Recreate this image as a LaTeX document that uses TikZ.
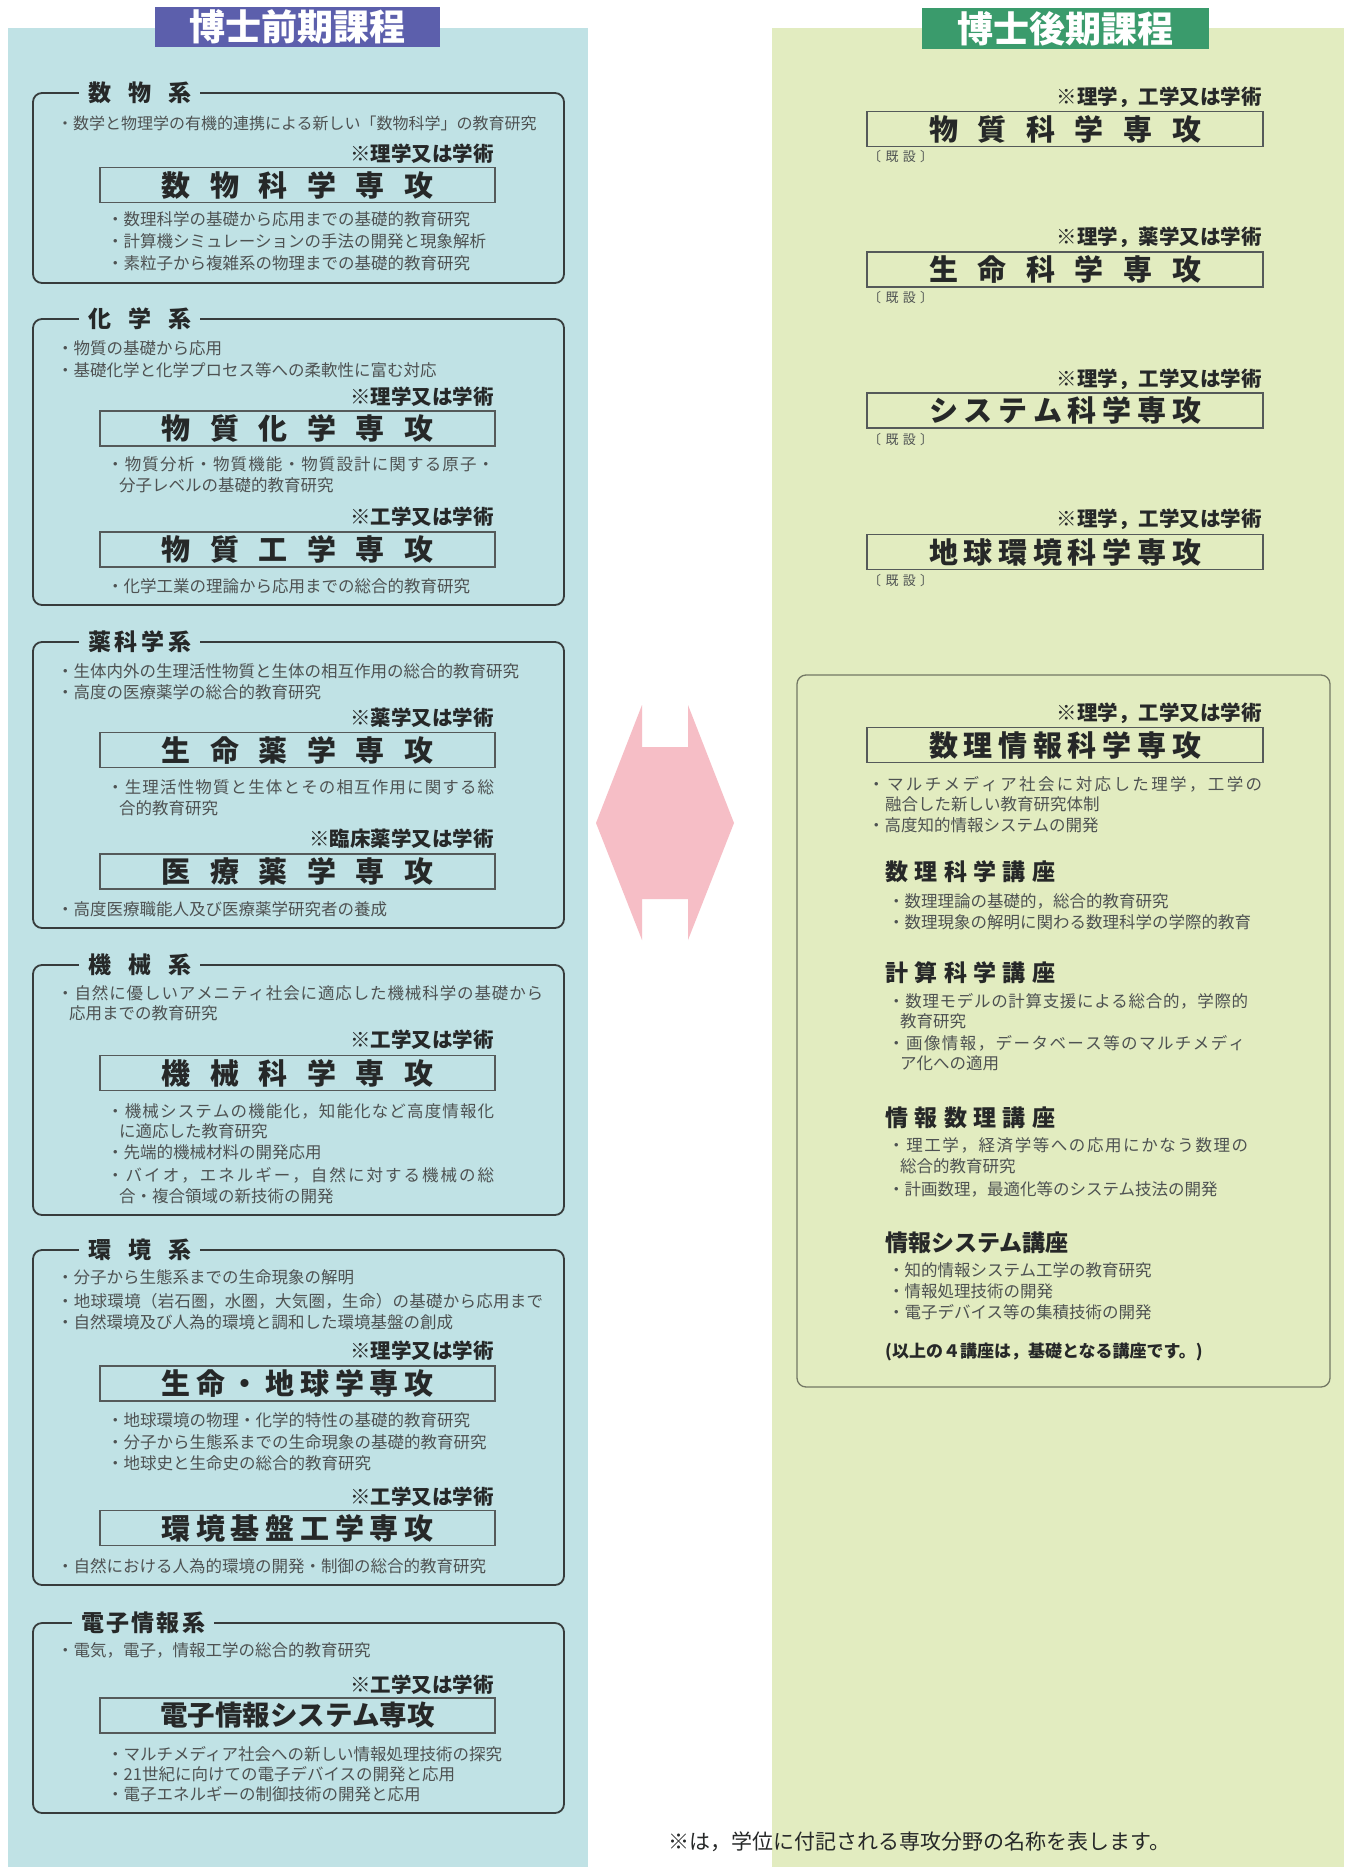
\documentclass[tikz,border=0pt]{standalone}
\usepackage{fontspec}
\setmainfont{Noto Sans CJK JP}
\definecolor{leftbg}{RGB}{192,226,229}
\definecolor{rightbg}{RGB}{226,236,192}
\definecolor{titleL}{RGB}{92,95,172}
\definecolor{titleR}{RGB}{58,155,108}
\definecolor{arrowpink}{RGB}{246,190,198}
\definecolor{txt}{RGB}{38,40,40}
\definecolor{btxt}{RGB}{78,82,82}
\definecolor{grpline}{RGB}{55,60,60}
\definecolor{boxline}{RGB}{85,90,90}
\definecolor{rline}{RGB}{115,120,100}
\newcommand\spread[2]{\hbox to #1{#2}}
\def\jst#1#2{\hbox to #1{\jstaux#2\relax\unskip}}
\def\jstaux#1{\ifx\relax#1\else#1\hfil\expandafter\jstaux\fi}
\begin{document}
\begin{tikzpicture}[x=1pt,y=-1pt,
  titlebar/.style={inner sep=0pt,text=white,font=\fontsize{36}{36}\selectfont\bfseries},
  grp/.style={draw=grpline,line width=1.8pt,rounded corners=9pt},
  rgrp/.style={draw=rline,line width=1.3pt,rounded corners=9pt},
  grphead/.style={anchor=west,fill=leftbg,inner xsep=9pt,inner ysep=2pt,text=txt,font=\fontsize{23}{23}\selectfont\bfseries},
  bul/.style={anchor=west,inner sep=0pt,text=btxt,font=\fontsize{16.5}{16.5}\selectfont},
  deg/.style={anchor=east,inner sep=0pt,text=txt,font=\fontsize{20.5}{20.5}\selectfont\bfseries},
  major/.style={draw=boxline,line width=1.3pt,inner sep=0pt,minimum height=35pt,text=txt,font=\fontsize{29}{29}\selectfont\bfseries},
  lmajor/.style={major,minimum width=395pt},
  rmajor/.style={major,minimum width=396pt},
  kisetsu/.style={anchor=west,inner sep=0pt,text=btxt,font=\fontsize{13}{13}\selectfont},
  koza/.style={anchor=west,inner sep=0pt,text=txt,font=\fontsize{23}{23}\selectfont\bfseries},
  foot/.style={anchor=west,inner sep=0pt,text=txt,font=\fontsize{21}{21}\selectfont}
]
\useasboundingbox (0,0) rectangle (1358,1867);
\fill[white] (0,0) rectangle (1358,1867);
\fill[leftbg] (8,28) rectangle (588,1867);
\fill[rightbg] (772,28) rectangle (1344,1867);
\fill[titleL] (155,7) rectangle (440,47);
\node[titlebar] (tL) at (297.5,27) {博士前期課程};
\fill[titleR] (922,8) rectangle (1209,49);
\node[titlebar] (tR) at (1065.5,28.5) {博士後期課程};

% pink double arrow
\fill[arrowpink] (596,823) -- (642,705) -- (642,747) -- (688,747) -- (688,705) -- (734,823)
  -- (688,940) -- (688,899) -- (642,899) -- (642,940) -- cycle;

% ---------- group 1 ----------
\draw[grp] (33,93) rectangle (564,283);
\node[grphead] (g1h) at (79,93) {\spread{103pt}{数\hfil 物\hfil 系}};
\node[bul,font=\fontsize{16}{16}\selectfont] (g1d1) at (57,123) {・数学と物理学の有機的連携による新しい「数物科学」の教育研究};
\node[deg] (g1s) at (494,154) {※理学又は学術};
\node[lmajor] (g1m) at (297.5,185) {\spread{272pt}{数\hfil 物\hfil 科\hfil 学\hfil 専\hfil 攻}};
\node[bul] (g1b1) at (107,219) {・数理科学の基礎から応用までの基礎的教育研究};
\node[bul] (g1b2) at (107,241) {・計算機シミュレーションの手法の開発と現象解析};
\node[bul] (g1b3) at (107,263) {・素粒子から複雑系の物理までの基礎的教育研究};

% ---------- group 2 ----------
\draw[grp] (33,319) rectangle (564,605);
\node[grphead] (g2h) at (79,319) {\spread{103pt}{化\hfil 学\hfil 系}};
\node[bul] (g2d1) at (57,348) {・物質の基礎から応用};
\node[bul] (g2d2) at (57,370) {・基礎化学と化学プロセス等への柔軟性に富む対応};
\node[deg] (g2s1) at (494,397) {※理学又は学術};
\node[lmajor] (g2m1) at (297.5,428.5) {\spread{272pt}{物\hfil 質\hfil 化\hfil 学\hfil 専\hfil 攻}};
\node[bul] (g2b1) at (107,464) {\jst{387pt}{・物質分析・物質機能・物質設計に関する原子・}};
\node[bul] (g2b1b) at (119,485) {分子レベルの基礎的教育研究};
\node[deg] (g2s2) at (494,517) {※工学又は学術};
\node[lmajor] (g2m2) at (297.5,549.5) {\spread{272pt}{物\hfil 質\hfil 工\hfil 学\hfil 専\hfil 攻}};
\node[bul] (g2b2) at (107,586) {・化学工業の理論から応用までの総合的教育研究};

% ---------- group 3 ----------
\draw[grp] (33,642) rectangle (564,928);
\node[grphead] (g3h) at (79,642) {\spread{103pt}{薬\hfil 科\hfil 学\hfil 系}};
\node[bul] (g3d1) at (57,671) {・生体内外の生理活性物質と生体の相互作用の総合的教育研究};
\node[bul] (g3d2) at (57,692) {・高度の医療薬学の総合的教育研究};
\node[deg] (g3s1) at (494,718) {※薬学又は学術};
\node[lmajor] (g3m1) at (297.5,750) {\spread{272pt}{生\hfil 命\hfil 薬\hfil 学\hfil 専\hfil 攻}};
\node[bul] (g3b1) at (107,787) {\jst{387pt}{・生理活性物質と生体とその相互作用に関する総}};
\node[bul] (g3b1b) at (119,808) {合的教育研究};
\node[deg] (g3s2) at (494,839) {※臨床薬学又は学術};
\node[lmajor] (g3m2) at (297.5,871.5) {\spread{272pt}{医\hfil 療\hfil 薬\hfil 学\hfil 専\hfil 攻}};
\node[bul] (g3b2) at (57,909) {・高度医療職能人及び医療薬学研究者の養成};

% ---------- group 4 ----------
\draw[grp] (33,965) rectangle (564,1215);
\node[grphead] (g4h) at (79,965) {\spread{103pt}{機\hfil 械\hfil 系}};
\node[bul] (g4d1) at (57,993) {\jst{486pt}{・自然に優しいアメニティ社会に適応した機械科学の基礎から}};
\node[bul] (g4d1b) at (69,1013) {応用までの教育研究};
\node[deg] (g4s) at (494,1040) {※工学又は学術};
\node[lmajor] (g4m) at (297.5,1073) {\spread{272pt}{機\hfil 械\hfil 科\hfil 学\hfil 専\hfil 攻}};
\node[bul] (g4b1) at (107,1111) {\jst{387pt}{・機械システムの機能化，知能化など高度情報化}};
\node[bul] (g4b1b) at (119,1131) {に適応した教育研究};
\node[bul] (g4b2) at (107,1152) {・先端的機械材料の開発応用};
\node[bul] (g4b3) at (107,1175) {\jst{387pt}{・バイオ，エネルギー，自然に対する機械の総}};
\node[bul] (g4b3b) at (119,1196) {合・複合領域の新技術の開発};

% ---------- group 5 ----------
\draw[grp] (33,1250) rectangle (564,1585);
\node[grphead] (g5h) at (79,1250) {\spread{103pt}{環\hfil 境\hfil 系}};
\node[bul] (g5d1) at (57,1277) {・分子から生態系までの生命現象の解明};
\node[bul] (g5d2) at (57,1301) {\jst{486pt}{・地球環境（岩石圏，水圏，大気圏，生命）の基礎から応用まで}};
\node[bul] (g5d3) at (57,1322) {・自然環境及び人為的環境と調和した環境基盤の創成};
\node[deg] (g5s1) at (494,1351) {※理学又は学術};
\node[lmajor] (g5m1) at (297.5,1383.5) {\spread{272pt}{生\hfil 命\hfil ・\hfil 地\hfil 球\hfil 学\hfil 専\hfil 攻}};
\node[bul] (g5b1) at (107,1420) {・地球環境の物理・化学的特性の基礎的教育研究};
\node[bul] (g5b2) at (107,1442) {・分子から生態系までの生命現象の基礎的教育研究};
\node[bul] (g5b3) at (107,1463) {・地球史と生命史の総合的教育研究};
\node[deg] (g5s2) at (494,1497) {※工学又は学術};
\node[lmajor] (g5m2) at (297.5,1528) {\spread{272pt}{環\hfil 境\hfil 基\hfil 盤\hfil 工\hfil 学\hfil 専\hfil 攻}};
\node[bul] (g5b4) at (57,1566) {・自然における人為的環境の開発・制御の総合的教育研究};

% ---------- group 6 ----------
\draw[grp] (33,1623) rectangle (564,1813);
\node[grphead] (g6h) at (72,1623) {\spread{124pt}{電\hfil 子\hfil 情\hfil 報\hfil 系}};
\node[bul] (g6d1) at (57,1650) {・電気，電子，情報工学の総合的教育研究};
\node[deg] (g6s) at (494,1685) {※工学又は学術};
\node[lmajor,font=\fontsize{27.5}{27.5}\selectfont\bfseries] (g6m) at (297.5,1715.5) {電子情報システム専攻};
\node[bul] (g6b1) at (107,1754) {・マルチメディア社会への新しい情報処理技術の探究};
\node[bul] (g6b2) at (107,1774) {・21世紀に向けての電子デバイスの開発と応用};
\node[bul] (g6b3) at (107,1794) {・電子エネルギーの制御技術の開発と応用};

% ---------- right column ----------
\node[deg] (r1s) at (1262,97) {※理学，工学又は学術};
\node[rmajor] (r1m) at (1065,129) {\spread{272pt}{物\hfil 質\hfil 科\hfil 学\hfil 専\hfil 攻}};
\node[kisetsu] (r1k) at (868,157) {\spread{65pt}{〔\hfil 既\hfil 設\hfil 〕}};

\node[deg] (r2s) at (1262,237) {※理学，薬学又は学術};
\node[rmajor] (r2m) at (1065,269.5) {\spread{272pt}{生\hfil 命\hfil 科\hfil 学\hfil 専\hfil 攻}};
\node[kisetsu] (r2k) at (868,298) {\spread{65pt}{〔\hfil 既\hfil 設\hfil 〕}};

\node[deg] (r3s) at (1262,379) {※理学，工学又は学術};
\node[rmajor] (r3m) at (1065,410.5) {\spread{272pt}{シ\hfil ス\hfil テ\hfil ム\hfil 科\hfil 学\hfil 専\hfil 攻}};
\node[kisetsu] (r3k) at (868,440) {\spread{65pt}{〔\hfil 既\hfil 設\hfil 〕}};

\node[deg] (r4s) at (1262,519) {※理学，工学又は学術};
\node[rmajor] (r4m) at (1065,552) {\spread{272pt}{地\hfil 球\hfil 環\hfil 境\hfil 科\hfil 学\hfil 専\hfil 攻}};
\node[kisetsu] (r4k) at (868,581) {\spread{65pt}{〔\hfil 既\hfil 設\hfil 〕}};

\draw[rgrp] (797,675) rectangle (1330,1387);
\node[deg] (r5s) at (1262,713) {※理学，工学又は学術};
\node[rmajor] (r5m) at (1065,745) {\spread{272pt}{数\hfil 理\hfil 情\hfil 報\hfil 科\hfil 学\hfil 専\hfil 攻}};
\node[bul] (r5d1) at (868,784) {\jst{394pt}{・マルチメディア社会に対応した理学，工学の}};
\node[bul] (r5d1b) at (885,804) {融合した新しい教育研究体制};
\node[bul] (r5d2) at (868,825) {・高度知的情報システムの開発};

\node[koza] (k1) at (885,872) {\spread{170pt}{数\hfil 理\hfil 科\hfil 学\hfil 講\hfil 座}};
\node[bul] (k1b1) at (888,901) {・数理理論の基礎的，総合的教育研究};
\node[bul] (k1b2) at (888,922) {・数理現象の解明に関わる数理科学の学際的教育};

\node[koza] (k2) at (885,973) {\spread{170pt}{計\hfil 算\hfil 科\hfil 学\hfil 講\hfil 座}};
\node[bul] (k2b1) at (888,1001) {\jst{360pt}{・数理モデルの計算支援による総合的，学際的}};
\node[bul] (k2b1b) at (900,1021) {教育研究};
\node[bul] (k2b2) at (888,1043) {\jst{357pt}{・画像情報，データベース等のマルチメディ}};
\node[bul] (k2b2b) at (900,1063) {ア化への適用};

\node[koza] (k3) at (885,1118) {\spread{170pt}{情\hfil 報\hfil 数\hfil 理\hfil 講\hfil 座}};
\node[bul] (k3b1) at (888,1145) {\jst{360pt}{・理工学，経済学等への応用にかなう数理の}};
\node[bul] (k3b1b) at (900,1166) {総合的教育研究};
\node[bul] (k3b2) at (888,1189) {・計画数理，最適化等のシステム技法の開発};

\node[koza] (k4) at (885,1243) {情報システム講座};
\node[bul] (k4b1) at (888,1270) {・知的情報システム工学の教育研究};
\node[bul] (k4b2) at (888,1291) {・情報処理技術の開発};
\node[bul] (k4b3) at (888,1312) {・電子デバイス等の集積技術の開発};
\node[bul,text=txt,font=\fontsize{17}{17}\selectfont\bfseries] (note) at (885,1352) {(以上の４講座は，基礎となる講座です。)};

\node[foot] (fn) at (668,1842) {※は，学位に付記される専攻分野の名称を表します。};
\end{tikzpicture}
\end{document}
